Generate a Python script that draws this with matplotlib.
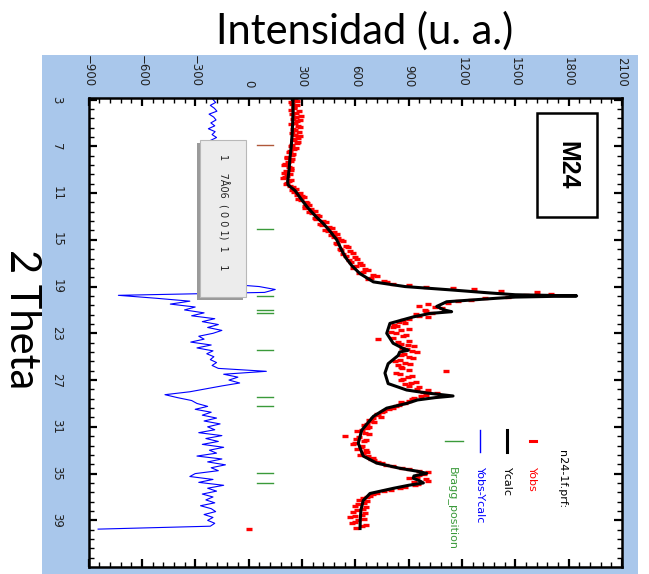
import numpy as np
import matplotlib
matplotlib.use("Agg")
import matplotlib.pyplot as plt
from matplotlib.patches import Rectangle
from matplotlib.ticker import FixedLocator, AutoMinorLocator

W, H = 649, 574

# --- Ycalc (2theta, intensity) ---
calc_2theta = [3.0, 4.0, 5.0, 6.0, 7.0, 8.0, 9.0, 10.0, 10.3, 10.8, 11.5, 12.2, 13.0,
               13.6, 14.3, 15.0, 15.9, 16.5, 17.2, 17.9, 18.6, 19.0, 19.3, 19.55, 19.7,
               19.8, 19.9, 20.0, 20.3, 20.7, 21.0, 21.15, 21.3, 21.6, 22.15, 23.0, 23.85,
               24.3, 24.45, 24.6, 24.9, 25.6, 26.4, 27.3, 27.85, 28.1, 28.36, 28.5, 28.7,
               29.0, 29.4, 30.1, 31.3, 32.4, 33.5, 34.1, 34.55, 34.8, 34.98, 35.2, 35.4,
               35.6, 35.8, 36.0, 36.26, 36.7, 37.3, 38.1, 39.0, 39.7]
calc_int = [250, 250, 248, 245, 240, 233, 228, 220, 222, 262, 295, 330, 378,
            420, 460, 496, 524, 545, 580, 627, 702, 880, 1150, 1360, 1500,
            1845, 1500, 1395, 1114, 1058, 1100, 1142, 1020, 925, 795, 777, 813,
            870, 898, 850, 841, 785, 767, 785, 889, 1000, 1150, 1050, 950,
            889, 777, 702, 636, 617, 645, 720, 852, 950, 1002, 930, 926,
            960, 983, 900, 814, 683, 645, 632, 628, 627]

# --- Yobs and Yobs-Ycalc, scan from 3.00 deg in 0.25 deg steps (4 values per degree) ---
scan_start, scan_step = 3.0, 0.25
obs_int = [262, 238, 270, 255,  281, 244, 266, 290,  259, 276, 248, 283,
           262, 279, 251, 270,  236, 258, 225, 247,  214, 240, 205, 226,
           238, 200, 219, 196,  228, 208, 252, 247,  289, 301, 279, 322,
           341, 318, 372, 357,  396, 377, 438, 412,  467, 446, 495, 478,
           521, 489, 546, 512,  571, 532, 598, 563,  625, 604, 655, 641,
           700, 688, 760, 812,  1000, 1270, 1620, 1560,  1330, 1180, 1010, 1050,
           990, 1030, 960, 905,  845, 820, 812, 858,  830, 870, 728, 842,
           895, 865, 920, 876,  905, 850, 880, 838,  862, 1110, 850, 895,
           860, 915, 900, 945,  980, 1000, 930, 905,  880, 830, 790, 748,
           728, 702, 690, 668,  676, 640, 655, 545,  606, 648, 590, 630,
           660, 642, 672, 690,  728, 775, 865, 960,  985, 950, 1000, 930,
           935, 850, 760, 700,  668, 622, 650, 600,  645, 585, 638, 570,
           615, 580, 640, 0]
# observed points between the steps above (3.125, 3.375, ...)
obs_int_mid = [272, 246, 258, 236,  268, 293, 252, 271,  240, 287, 262, 243,
               290, 258, 276, 247,  268, 232, 252, 219,  246, 221, 198, 236,
               212, 232, 205, 240,  215, 232, 268, 258,  272, 312, 296, 331,
               320, 352, 338, 384,  371, 420, 401, 452,  432, 480, 462, 505,
               532, 500, 558, 521,  585, 548, 610, 578,  640, 590, 672, 620,
               720, 670, 780, 900,  1150, 1420, 1700, 1460,  1250, 1120, 960, 1090,
               1000, 940, 1010, 870,  880, 835, 905, 800,  885, 815, 900, 860,
               930, 890, 950, 860,  925, 825, 910, 855,  900, 830, 920, 870,
               940, 880, 960, 1010,  1060, 970, 920, 860,  845, 810, 760, 720,
               745, 680, 705, 650,  665, 612, 680, 620,  660, 600, 640, 612,
               668, 625, 700, 705,  752, 810, 905, 1010,  960, 900, 1010, 955,
               880, 800, 725, 685,  645, 668, 615, 660,  612, 655, 598, 648,
               600, 660, 605]
diff_int = [-200, -185, -215, -192, -178, -222, -196, -183, -212, -190, -226, -188,
            -205, -180, -214, -190, -228, -196, -221, -184, -232, -201, -240, -205,
            -188, -236, -210, -240, -200, -226, -195, -230, -188, -205, -250, -202,
            -180, -232, -195, -210, -190, -225, -185, -231, -188, -222, -185, -218,
            -190, -230, -176, -221, -170, -211, -160, -200, -158, -196, -160, -185,
            -150, -180, -140, -150, 60, 150, 90, -732, -520, -330, -440, -300,
            -360, -250, -320, -190, -260, -170, -230, -150, -200, -280, -250, -325,
            -210, -290, -200, -235, -195, -215, -180, -205, -170, 100, -140, -60,
            -110, -50, -150, -240, -330, -470, -400, -320, -290, -230, -300, -210,
            -260, -180, -250, -160, -230, -190, -280, -150, -240, -170, -260, -140,
            -220, -180, -290, -150, -230, -130, -210, -170, -300, -330, -200, -280,
            -140, -230, -180, -260, -200, -240, -190, -270, -210, -185, -250, -200,
            -230, -190, -215, -846]

bragg_pos = [6.89, 14.10, 19.81, 21.0, 21.24, 24.43, 28.47, 29.22, 34.98, 35.83]

int_ticks = [-900, -600, -300, 0, 300, 600, 900, 1200, 1500, 1800, 2100]
theta_ticks = [3, 7, 11, 15, 19, 23, 27, 31, 35, 39, 43]

legend_labels = ["Yobs", "Ycalc", "Yobs-Ycalc", "Bragg_position"]
legend_colors = ["red", "black", "blue", "#3a9a3a"]

scan_2theta = scan_start + scan_step * np.arange(len(obs_int))
scan_2theta_mid = scan_start + scan_step / 2 + scan_step * np.arange(len(obs_int_mid))


def fx(x):
    return x / W


def fy(y):
    return 1 - y / H


fig = plt.figure(figsize=(W / 100, H / 100), dpi=100)

# light blue frame of the screenshot
fig.patches.append(Rectangle((fx(42), 0), fx(638) - fx(42), fy(55), transform=fig.transFigure,
                             facecolor="#a9c7eb", edgecolor="none", zorder=-2))

ax = fig.add_axes([fx(88.5), fy(567), fx(622) - fx(88.5), fy(98) - fy(567)])
ax.set_facecolor("white")
ax.set_xlim(-900, 2100)
ax.set_ylim(42.99, 2.87)

ax.plot(obs_int, scan_2theta, ls="none", marker="_", ms=5, mew=2.4, color="red", zorder=2)
ax.plot(obs_int_mid, scan_2theta_mid, ls="none", marker="_", ms=5, mew=2.4, color="red", zorder=2)
ax.plot(calc_int, calc_2theta, color="black", lw=2.2, zorder=3)
ax.plot(diff_int, scan_2theta, color="blue", lw=0.8, zorder=2)
for i, p in enumerate(bragg_pos):
    ax.plot([50, 140], [p, p], color="#b0583a" if i == 0 else "#3a9a3a", lw=1, zorder=1)

ax.xaxis.set_major_locator(FixedLocator(int_ticks))
ax.xaxis.set_minor_locator(AutoMinorLocator(5))
ax.yaxis.set_major_locator(FixedLocator(theta_ticks))
ax.yaxis.set_minor_locator(AutoMinorLocator(5))
ax.tick_params(which="both", direction="in", top=True, bottom=True, left=True, right=True,
               labeltop=True, labelbottom=False, labelleft=True, labelright=False, colors="black")
ax.tick_params(which="major", length=6, width=1.6)
ax.tick_params(which="minor", length=3.5, width=1.0)
ax.tick_params(axis="x", labelrotation=-90, pad=8, labelsize=8.5, labelcolor="#222222")
ax.tick_params(axis="y", labelrotation=-90, pad=18, labelsize=8.5, labelcolor="#222222")
for lab in ax.get_yticklabels():
    lab.set_va("center")
for s in ax.spines.values():
    s.set_linewidth(1.8)

# grey label box with shadow
fig.patches.append(Rectangle((fx(197), fy(300)), fx(243) - fx(197), fy(143) - fy(300),
                             transform=fig.transFigure, facecolor="#9a9a9a", edgecolor="none", zorder=4))
fig.patches.append(Rectangle((fx(200), fy(297)), fx(246) - fx(200), fy(140) - fy(297),
                             transform=fig.transFigure, facecolor="#ececec", edgecolor="#b8b8b8",
                             lw=0.8, zorder=5))
fig.text(fx(223), fy(212), "1    7Å06  ( 0 0 1)  1    1", rotation=-90, ha="center", va="center",
         fontsize=7, color="#222222", zorder=6)

# sample label
fig.patches.append(Rectangle((fx(537), fy(217)), fx(597) - fx(537), fy(113) - fy(217),
                             transform=fig.transFigure, facecolor="white", edgecolor="black",
                             lw=1.8, zorder=5))
fig.text(fx(567), fy(165), "M24", rotation=-90, ha="center", va="center", fontsize=18,
         fontweight="bold", family="Liberation Sans", zorder=6)

# legend drawn rotated like the rest of the picture
fig.text(fx(562), fy(450), "n24-1f.prf:", rotation=-90, ha="center", va="top", fontsize=8, zorder=6)
leg_x = [532, 507, 480, 452]
for k in range(4):
    fig.text(fx(leg_x[k]), fy(467), legend_labels[k], rotation=-90, ha="center", va="top",
             fontsize=8, color=legend_colors[k], zorder=6)
fig.lines.append(plt.Line2D([fx(530), fx(536)], [fy(441), fy(441)], transform=fig.transFigure,
                            color="red", lw=2.2))
fig.lines.append(plt.Line2D([fx(507), fx(507)], [fy(430), fy(452)], transform=fig.transFigure,
                            color="black", lw=2.2))
fig.lines.append(plt.Line2D([fx(480), fx(480)], [fy(430), fy(452)], transform=fig.transFigure,
                            color="blue", lw=1.0))
fig.lines.append(plt.Line2D([fx(445), fx(463)], [fy(441), fy(441)], transform=fig.transFigure,
                            color="#3a9a3a", lw=1.0))

# outer axis titles
fig.text(fx(365), fy(31), "Intensidad (u. a.)", ha="center", va="center", fontsize=30, family="Lato")
fig.text(fx(22), fy(319), "2 Theta", rotation=-90, ha="center", va="center", fontsize=30, family="Lato")

fig.savefig("out.png", dpi=100)
